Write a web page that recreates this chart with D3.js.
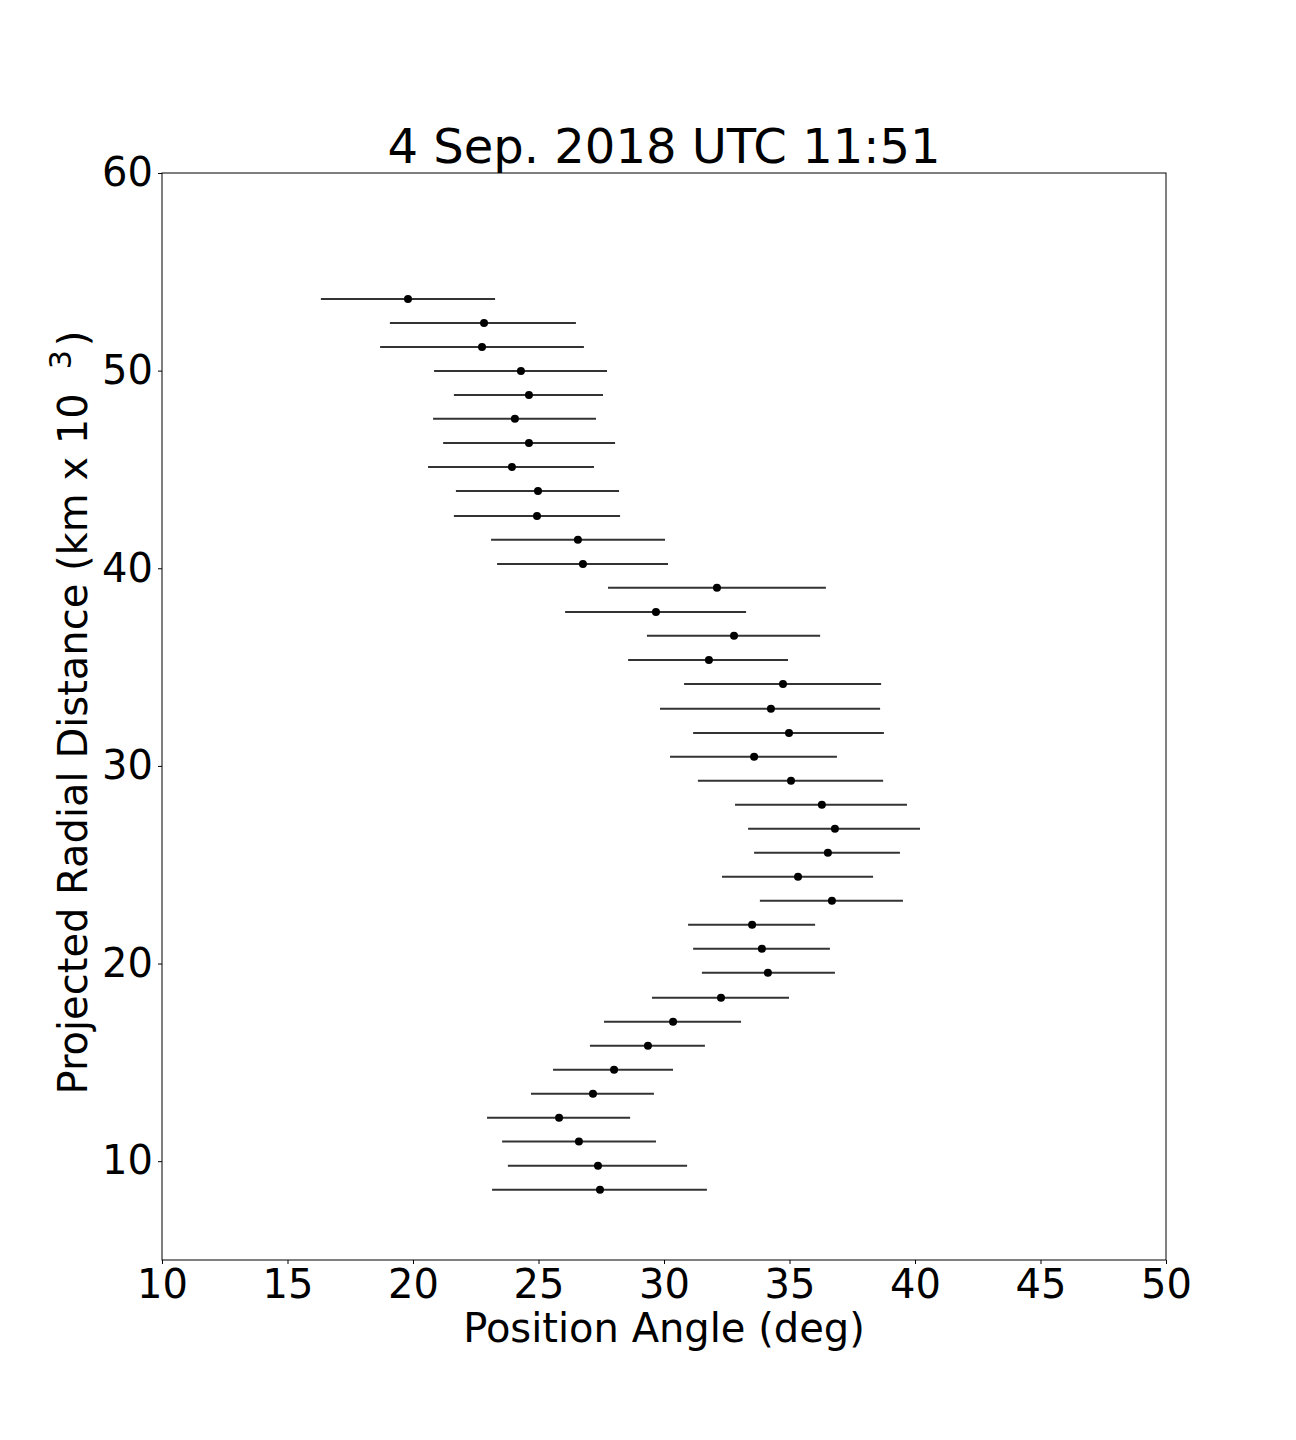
<!DOCTYPE html>
<html>
<head>
<meta charset="utf-8">
<script src="https://cdn.jsdelivr.net/npm/d3@7"></script>
<style>
body{margin:0;background:#fff;}
text{font-family:"DejaVu Sans",sans-serif;}
</style>
</head>
<body>
<svg id="chart" width="1296" height="1440"></svg>
<script>
const distance = [53.63,52.41,51.20,49.98,48.77,47.56,46.34,45.13,43.91,42.65,41.44,40.22,39.01,37.79,36.58,35.36,34.15,32.89,31.67,30.46,29.25,28.03,26.82,25.60,24.39,23.18,21.96,20.75,19.53,18.27,17.06,15.84,14.63,13.41,12.20,10.99,9.77,8.56];
const angle = [19.80,22.83,22.75,24.30,24.62,24.06,24.62,23.94,24.98,24.94,26.57,26.77,32.11,29.68,32.79,31.79,34.74,34.26,34.98,33.59,35.06,36.29,36.81,36.53,35.34,36.69,33.51,33.90,34.14,32.27,30.36,29.36,28.01,27.17,25.82,26.61,27.37,27.45];
const angleLow = [16.33,19.08,18.69,20.84,21.63,20.80,21.20,20.60,21.71,21.63,23.11,23.35,27.77,26.06,29.32,28.57,30.80,29.84,31.16,30.24,31.35,32.83,33.35,33.59,32.31,33.82,30.96,31.16,31.51,29.52,27.61,27.05,25.58,24.70,22.95,23.55,23.78,23.15];
const angleHigh = [23.27,26.49,26.81,27.73,27.57,27.29,28.05,27.21,28.21,28.25,30.04,30.16,36.45,33.27,36.22,34.94,38.65,38.61,38.76,36.89,38.73,39.68,40.20,39.40,38.33,39.52,36.02,36.61,36.81,34.98,33.07,31.63,30.36,29.60,28.65,29.68,30.92,31.71];
const xTicks = [10,15,20,25,30,35,40,45,50];
const yTicks = [10,20,30,40,50,60];

const svg = d3.select("#chart");
const L=162, R=1166, T=173, B=1260;
const x = d3.scaleLinear().domain([10,50]).range([L,R]);
const y = d3.scaleLinear().domain([5,60]).range([B,T]);

const data = distance.map((d,i)=>({d, a:angle[i], lo:angleLow[i], hi:angleHigh[i]}));

svg.append("g").selectAll("line").data(data).join("line")
  .attr("x1",d=>x(d.lo)).attr("x2",d=>x(d.hi))
  .attr("y1",d=>y(d.d)).attr("y2",d=>y(d.d))
  .attr("stroke","#333").attr("stroke-width",2);
svg.append("g").selectAll("circle").data(data).join("circle")
  .attr("cx",d=>x(d.a)).attr("cy",d=>y(d.d)).attr("r",4).attr("fill","#000");

// frame
svg.append("rect").attr("x",L).attr("y",T).attr("width",R-L).attr("height",B-T)
  .attr("fill","none").attr("stroke","#000").attr("stroke-width",1);

const xAxis = svg.append("g").attr("transform",`translate(0,${B})`)
  .call(d3.axisBottom(x).tickValues(xTicks).tickSize(4).tickPadding(6).tickFormat(d3.format("d")));
const yAxis = svg.append("g").attr("transform",`translate(${L},0)`)
  .call(d3.axisLeft(y).tickValues(yTicks).tickSize(4).tickPadding(5).tickFormat(d3.format("d")));
[xAxis,yAxis].forEach(g=>{
  g.select(".domain").remove();
  g.selectAll("text").attr("font-size",40).attr("font-family","DejaVu Sans").attr("fill","#000");
  g.selectAll("line").attr("stroke","#000");
});

svg.append("text").attr("x",(L+R)/2).attr("y",163).attr("text-anchor","middle")
  .attr("font-size",48).attr("fill","#000").text("4 Sep. 2018 UTC 11:51");
svg.append("text").attr("x",(L+R)/2).attr("y",1342).attr("text-anchor","middle")
  .attr("font-size",40).attr("fill","#000").text("Position Angle (deg)");
const yl = svg.append("text").attr("transform",`translate(87,${(T+B)/2 - 4}) rotate(-90)`)
  .attr("text-anchor","middle").attr("font-size",40).attr("fill","#000");
yl.append("tspan").text("Projected Radial Distance (km x 10");
yl.append("tspan").attr("dx",24).attr("dy",-16).attr("font-size",30).text("3");
yl.append("tspan").attr("dx",4).attr("dy",16).text(")");
</script>
</body>
</html>
